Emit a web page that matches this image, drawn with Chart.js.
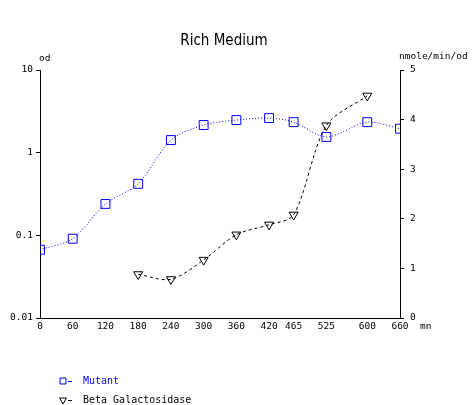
<!DOCTYPE html>
<html>
<head>
<meta charset="utf-8">
<script src="https://cdn.jsdelivr.net/npm/chart.js@4.4.0/dist/chart.umd.min.js"></script>
<style>
  body { margin: 0; background: #fff; }
  #chart { display: block; }
</style>
</head>
<body>
<canvas id="chart" width="472" height="405"></canvas>
<script>
// time axis ticks (mn)
const timeTicks = [0, 60, 120, 180, 240, 300, 360, 420, 465, 525, 600, 660];

// Mutant, optical density (left log axis)
const mutantTimes = [0, 60, 120, 180, 240, 300, 360, 420, 465, 525, 600, 660];
const mutantOd = [0.067, 0.091, 0.24, 0.42, 1.42, 2.16, 2.48, 2.62, 2.34, 1.55, 2.34, 1.95];

// Beta Galactosidase, nmole/min/od (right axis)
const betaTimes = [180, 240, 300, 360, 420, 465, 525, 600];
const betaActivity = [0.88, 0.78, 1.17, 1.68, 1.88, 2.08, 3.88, 4.48];

const odTicks = [0.01, 0.1, 1, 10];

const mono = "'DejaVu Sans Mono', monospace";
const tickFont = { family: mono, size: 9.5 };

const toPoints = (xs, ys) => xs.map((x, i) => ({ x: x, y: ys[i] }));

// axis captions and the legend, drawn after the chart
const extras = {
  id: 'extras',
  afterDraw(chart) {
    const ctx = chart.ctx;
    const area = chart.chartArea;
    ctx.save();
    ctx.font = "9.5px " + mono;
    ctx.fillStyle = '#000';
    ctx.textBaseline = 'middle';
    ctx.textAlign = 'left';
    ctx.fillText('od', area.left - 1, area.top - 11);
    ctx.fillText('nmole/min/od', area.right - 1, area.top - 13);
    ctx.fillText('mn', area.right + 20, area.bottom + 9);

    // legend
    ctx.font = "10px " + mono;
    chart.data.datasets.forEach((ds, i) => {
      const y = area.bottom + 63 + i * 19;
      const x = 63;
      ctx.strokeStyle = ds.borderColor;
      ctx.fillStyle = 'rgba(0,0,0,0)';
      ctx.lineWidth = 1;
      ctx.setLineDash([]);
      Chart.helpers.drawPoint(ctx, {
        pointStyle: ds.pointStyle,
        rotation: ds.pointRotation || 0,
        radius: i === 0 ? 4.2 : 4,
        borderWidth: 1
      }, x, y);
      ctx.beginPath();
      ctx.moveTo(x + 5, y + 0.5);
      ctx.lineTo(x + 9, y + 0.5);
      ctx.stroke();
      ctx.fillStyle = ds.borderColor;
      ctx.fillText(ds.label, x + 20, y);
    });
    ctx.restore();
  }
};

new Chart(document.getElementById('chart'), {
  type: 'line',
  data: {
    datasets: [
      {
        label: 'Mutant',
        data: toPoints(mutantTimes, mutantOd),
        yAxisID: 'yOd',
        borderColor: '#0000ff',
        borderWidth: 1,
        borderDash: [1, 2],
        pointStyle: 'rect',
        pointRadius: 6.3,
        pointBorderWidth: 1,
        pointBorderColor: '#0000ff',
        pointBackgroundColor: 'rgba(0,0,0,0)',
        tension: 0.3,
        fill: false
      },
      {
        label: 'Beta Galactosidase',
        data: toPoints(betaTimes, betaActivity),
        yAxisID: 'yBeta',
        borderColor: '#000000',
        borderWidth: 1,
        borderDash: [3, 3],
        pointStyle: 'triangle',
        pointRotation: 180,
        pointRadius: 5.2,
        pointBorderWidth: 1,
        pointBorderColor: '#000000',
        pointBackgroundColor: 'rgba(0,0,0,0)',
        tension: 0.3,
        fill: false
      }
    ]
  },
  options: {
    responsive: false,
    animation: false,
    layout: { padding: { left: 0, right: 24, top: 0, bottom: 0 } },
    plugins: {
      legend: { display: false },
      tooltip: { enabled: false },
      title: {
        display: true,
        text: 'Rich Medium',
        color: '#000',
        font: { family: "'Liberation Sans Narrow', 'DejaVu Sans Condensed', sans-serif", size: 15, weight: 'normal' },
        padding: { top: 32, bottom: 20 }
      }
    },
    scales: {
      x: {
        type: 'linear',
        position: 'bottom',
        min: 0,
        max: 660,
        afterBuildTicks: s => { s.ticks = timeTicks.map(v => ({ value: v })); },
        afterFit: s => { s.height = 87; },
        ticks: { autoSkip: false, maxRotation: 0, color: '#000', font: tickFont, padding: 3 },
        grid: { drawOnChartArea: false, drawTicks: false },
        border: { color: '#000', width: 1 }
      },
      yOd: {
        type: 'logarithmic',
        position: 'left',
        min: 0.01,
        max: 10,
        afterBuildTicks: s => { s.ticks = odTicks.map(v => ({ value: v })); },
        afterFit: s => { s.width = 40; },
        ticks: { color: '#000', font: tickFont, padding: 3, callback: v => String(v) },
        grid: { drawOnChartArea: false, tickLength: 4, color: '#000' },
        border: { color: '#000', width: 1 }
      },
      yBeta: {
        type: 'linear',
        position: 'right',
        min: 0,
        max: 5,
        afterFit: s => { s.width = 48; },
        ticks: { stepSize: 1, color: '#000', font: tickFont, padding: 6 },
        grid: { drawOnChartArea: false, tickLength: 4, color: '#000' },
        border: { color: '#000', width: 1 }
      }
    }
  },
  plugins: [extras]
});
</script>
</body>
</html>
